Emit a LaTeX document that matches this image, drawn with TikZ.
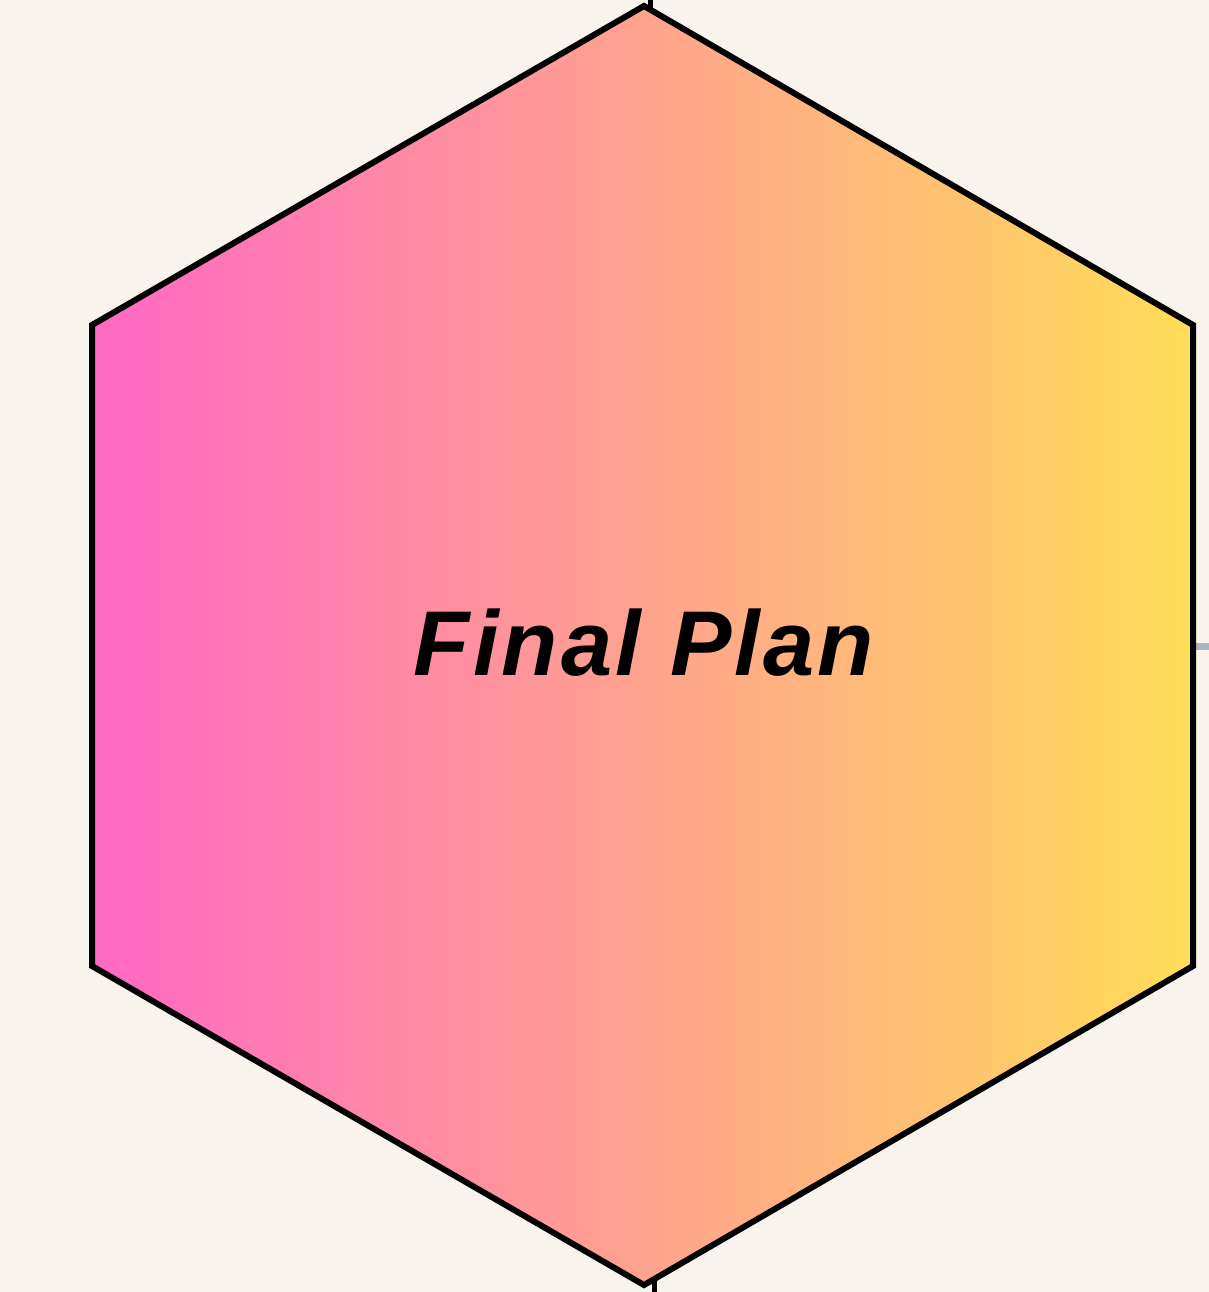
\documentclass[tikz,border=0pt]{standalone}
\usepackage{fontspec}
\setmainfont{Liberation Sans}
\newfontfamily\labelfont[LetterSpace=3.5]{Liberation Sans}
\definecolor{bgc}{HTML}{F8F3EC}
\definecolor{pinkc}{HTML}{FF68C4}
\definecolor{yelc}{HTML}{FFDD58}
\definecolor{grayc}{HTML}{A8B4BF}
\tikzset{
  hexline/.style={draw=black, line width=6pt, line join=miter, left color=pinkc, right color=yelc},
  linkblack/.style={draw=black, line width=5pt},
  linkgray/.style={draw=grayc, line width=7pt},
  title/.style={font=\labelfont\fontsize{92}{92}\selectfont\bfseries\itshape, text=black}
}
\begin{document}
\begin{tikzpicture}[x=1pt,y=-1pt]
\fill[bgc] (0,0) rectangle (1209,1292);
\useasboundingbox (0,0) rectangle (1209,1292);
\coordinate (tin) at (650,0);
\coordinate (tend) at (650,30);
\coordinate (bin) at (654,1292);
\coordinate (bend) at (654,1260);
\coordinate (rin) at (1209,646);
\coordinate (rend) at (1180,646);
\draw[linkblack] (tin) -- (tend);
\draw[linkblack] (bin) -- (bend);
\draw[linkgray] (rin) -- (rend);
\path[hexline] (644,6) -- (1193,325) -- (1193,966) -- (644,1285) -- (92,966) -- (92,325) -- cycle;
\node[title] (plan) at (644,643) {Final Plan};
\end{tikzpicture}
\end{document}
